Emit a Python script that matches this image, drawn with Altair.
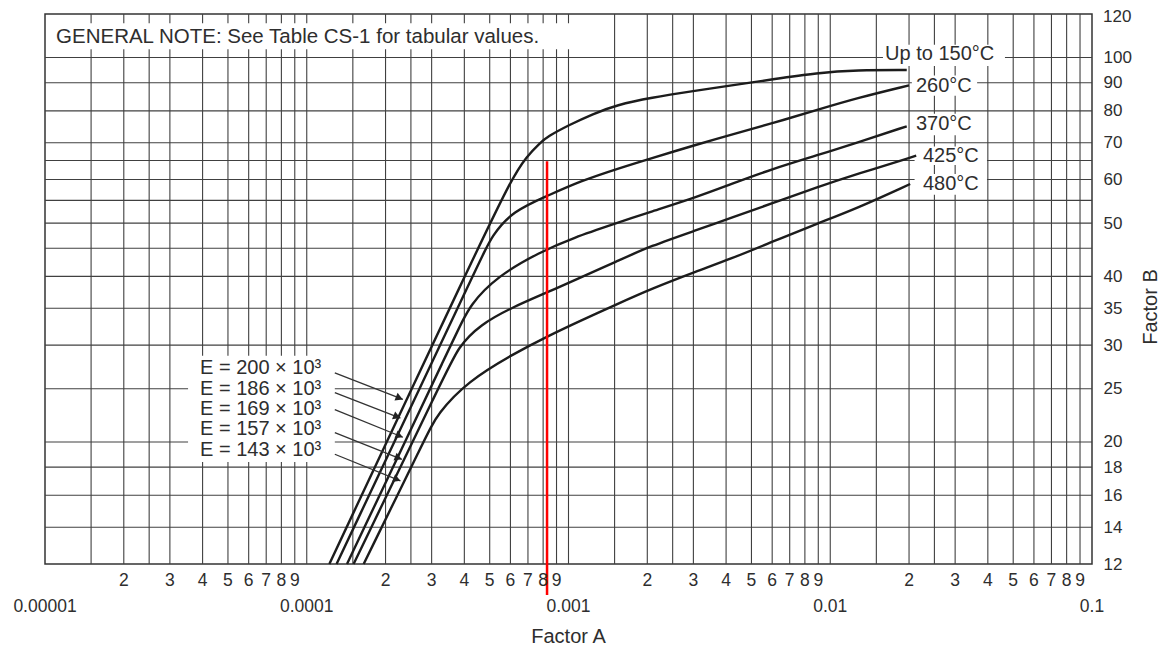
import altair as alt
import pandas as pd

FONT = "Liberation Sans"
TXT = "#2e2e2e"
GRID = "#404040"
INK = "#1c1c1c"

# ---------------- data ----------------
SERIES = ["Up to 150°C", "260°C", "370°C", "425°C", "480°C"]

A_150 = [1.22e-4, 4.5e-4, 6.1e-4, 6.9e-4, 7.8e-4, 8.3e-4, 1.0e-3, 1.24e-3, 1.53e-3, 2.05e-3, 3.1e-3, 4.14e-3, 6.04e-3, 8.9e-3, 1.265e-2, 1.96e-2]
B_150 = [12, 45, 60.5, 66, 70, 71.8, 75.3, 79, 82, 84.5, 87.1, 88.9, 91.3, 93.8, 94.9, 94.9]

A_260 = [1.30e-4, 4.6e-4, 5.1e-4, 6.14e-4, 8.28e-4, 1.107e-3, 1.573e-3, 2.05e-3, 3.1e-3, 4.14e-3, 6.04e-3, 8.9e-3, 1.265e-2, 2.0e-2]
B_260 = [12, 42.8, 47.5, 52.6, 56.0, 59.6, 63.0, 65.5, 69.5, 72.3, 76.0, 80.3, 84.4, 89.0]

A_370 = [1.425e-4, 3.8e-4, 4.2e-4, 5.33e-4, 7.78e-4, 1.04e-3, 1.53e-3, 2.05e-3, 3.1e-3, 4.14e-3, 6.04e-3, 8.9e-3, 1.265e-2, 1.96e-2]
B_370 = [12, 32.1, 35.5, 40.0, 44.3, 47.0, 50.0, 52.4, 55.8, 58.8, 62.8, 66.4, 70.0, 75.0]

A_425 = [1.51e-4, 3.4e-4, 3.78e-4, 4.59e-4, 6.14e-4, 8.28e-4, 1.07e-3, 1.53e-3, 2.05e-3, 3.1e-3, 4.14e-3, 6.04e-3, 8.9e-3, 1.265e-2, 2.13e-2]
B_425 = [12, 26.7, 29.7, 32.7, 35.2, 37.4, 39.5, 42.6, 45.4, 48.6, 51.0, 54.4, 58.1, 61.4, 66.3]

A_480 = [1.65e-4, 2.85e-4, 3.15e-4, 4.13e-4, 6.14e-4, 8.28e-4, 1.107e-3, 1.55e-3, 2.05e-3, 3.1e-3, 4.14e-3, 6.04e-3, 8.9e-3, 1.265e-2, 2.02e-2]
B_480 = [12, 20.4, 22.5, 25.8, 28.9, 31.1, 33.2, 35.7, 37.9, 40.9, 43.0, 46.3, 49.9, 53.2, 58.9]

# temperature labels (left edge / vertical centre, in data units)
T_LABEL_A = [0.01619, 0.02126, 0.02126, 0.02261, 0.02261]
T_LABEL_B = [101.3, 88.9, 75.6, 66.3, 58.9]
T_BOX_A1 = [0.0159, 0.0205, 0.0205, 0.0210, 0.0210]
T_BOX_A2 = [0.0465, 0.0364, 0.0364, 0.0397, 0.0397]
T_BOX_B1 = [96.5, 85.2, 72.2, 63.8, 56.3]
T_BOX_B2 = [105.5, 92.8, 79.0, 68.9, 61.4]

# modulus labels and their arrows
E_LABELS = ["E = 200 × 10³", "E = 186 × 10³", "E = 169 × 10³", "E = 157 × 10³", "E = 143 × 10³"]
E_LABEL_A = [3.91e-5] * 5
E_LABEL_B = [27.3, 25.0, 22.96, 21.08, 19.3]
E_BOX = {"A1": 3.52e-5, "A2": 1.28e-4, "B1": 18.4, "B2": 28.7}
ARROW_A0 = [1.28e-4] * 5
ARROW_B0 = [26.7, 24.6, 22.9, 20.8, 19.0]
ARROW_A1 = [2.33e-4, 2.28e-4, 2.33e-4, 2.31e-4, 2.28e-4]
ARROW_B1 = [23.9, 22.1, 20.4, 18.6, 17.0]

NOTE_TEXT = "GENERAL NOTE: See Table CS-1 for tabular values."
NOTE_A, NOTE_B = 1.102e-5, 108.8
NOTE_BOX = {"A1": 1.02e-5, "A2": 1.088e-3, "B1": 103.5, "B2": 115.5}

# red marker line
RED_A = 8.28e-4
RED_B_TOP = 64.8

# grid and ticks
GRID_MULT = [1.5, 2, 2.5, 3, 4, 5, 6, 7, 8, 9]
DECADES = [1e-5, 1e-4, 1e-3, 1e-2]
INNER_DECADES = [1e-4, 1e-3, 1e-2]
H_GRID = [14, 16, 18, 20, 25, 30, 35, 40, 45, 50, 55, 60, 65, 70, 80, 90, 100]
Y_TICKS = [12, 14, 16, 18, 20, 25, 30, 35, 40, 50, 60, 70, 80, 90, 100]
Y_TOP_LABEL = "120"
MINOR_DIGITS = [2, 3, 4, 5, 6, 7, 8, 9]
DECADE_VALUES = [1e-5, 1e-4, 1e-3, 1e-2, 1e-1]
DECADE_LABELS = ["0.00001", "0.0001", "0.001", "0.01", "0.1"]

# ---------------- tables ----------------
curve_rows = []
for s, (As, Bs) in zip(SERIES, [(A_150, B_150), (A_260, B_260), (A_370, B_370),
                                 (A_425, B_425), (A_480, B_480)]):
    for i, (a, b) in enumerate(zip(As, Bs)):
        curve_rows.append({"series": s, "A": a, "B": b, "idx": i})
curves_df = pd.DataFrame(curve_rows)

vgrid_df = pd.DataFrame({"A": [m * d for d in DECADES for m in GRID_MULT] + INNER_DECADES})
hgrid_df = pd.DataFrame({"B": H_GRID})

box_df = pd.DataFrame(
    [NOTE_BOX, E_BOX]
    + [{"A1": a1, "A2": a2, "B1": b1, "B2": b2}
       for a1, a2, b1, b2 in zip(T_BOX_A1, T_BOX_A2, T_BOX_B1, T_BOX_B2)]
)

tlab_df = pd.DataFrame({"A": T_LABEL_A, "B": T_LABEL_B, "label": SERIES})
elab_df = pd.DataFrame({"A": E_LABEL_A, "B": E_LABEL_B, "label": E_LABELS})
arrow_df = pd.DataFrame({"A0": ARROW_A0, "B0": ARROW_B0, "A1": ARROW_A1, "B1": ARROW_B1})
note_df = pd.DataFrame({"A": [NOTE_A], "B": [NOTE_B], "label": [NOTE_TEXT]})
red_df = pd.DataFrame({"A": [RED_A], "B": [RED_B_TOP]})
minor_df = pd.DataFrame({"A": [m * d for d in DECADES for m in MINOR_DIGITS],
                         "label": [str(m) for d in DECADES for m in MINOR_DIGITS]})
decade_df = pd.DataFrame({"A": DECADE_VALUES, "label": DECADE_LABELS})

# ---------------- chart ----------------
W, H = 1047, 550
xs = alt.Scale(type="log", domain=[1e-5, 0.1], nice=False)
ys = alt.Scale(type="log", domain=[12, 120], nice=False)
YAXIS = alt.Axis(orient="right", values=Y_TICKS, format="d", labelFontSize=17,
                 labelColor=TXT, labelFont=FONT, labelPadding=11, labelOverlap=False,
                 domain=False, ticks=False, grid=False, title=None)


def X(f):
    return alt.X(f, type="quantitative", scale=xs, axis=None)


def Y(f):
    return alt.Y(f, type="quantitative", scale=ys, axis=YAXIS)


def label(text, x, y, size, angle=0):
    return alt.Chart(pd.DataFrame({"t": [text]})).mark_text(
        align="center", baseline="middle", fontSize=size, font=FONT, color=TXT,
        angle=angle).encode(x=alt.value(x), y=alt.value(y), text="t:N")


vgrid = alt.Chart(vgrid_df).mark_rule(color=GRID, strokeWidth=1.1).encode(x=X("A"))
hgrid = alt.Chart(hgrid_df).mark_rule(color=GRID, strokeWidth=1.1).encode(y=Y("B"))
boxes = alt.Chart(box_df).mark_rect(color="white", opacity=1).encode(
    x=X("A1"), x2="A2", y=Y("B1"), y2="B2")
curves = alt.Chart(curves_df).mark_line(color=INK, strokeWidth=2.4, interpolate="basis").encode(
    x=X("A"), y=Y("B"), detail="series:N", order=alt.Order("idx:Q"))
red = alt.Chart(red_df).mark_rule(color="#ff0000", strokeWidth=2.5).encode(
    x=X("A"), y=Y("B"), y2=alt.value(H + 31))
arrows = alt.Chart(arrow_df).mark_rule(color="#333333", strokeWidth=1.3).encode(
    x=X("A0"), x2="A1", y=Y("B0"), y2="B1")
heads = alt.Chart(arrow_df).mark_point(shape="triangle-right", filled=True, size=70, angle=22,
                                       color="#222222", opacity=1, xOffset=-3.5, yOffset=-1.4).encode(
    x=X("A1"), y=Y("B1"))
elabels = alt.Chart(elab_df).mark_text(align="left", baseline="middle", fontSize=20,
                                       font=FONT, color=TXT).encode(
    x=X("A"), y=Y("B"), text="label:N")
tlabels = alt.Chart(tlab_df).mark_text(align="left", baseline="middle", fontSize=20,
                                       font=FONT, color=TXT).encode(
    x=X("A"), y=Y("B"), text="label:N")
note = alt.Chart(note_df).mark_text(align="left", baseline="middle", fontSize=20.5,
                                    font=FONT, color=TXT).encode(
    x=X("A"), y=Y("B"), text="label:N")
minor_lbl = alt.Chart(minor_df).mark_text(align="center", baseline="middle", fontSize=17.5,
                                          font=FONT, color=TXT).encode(
    x=X("A"), y=alt.value(H + 17), text="label:N")
decade_lbl = alt.Chart(decade_df).mark_text(align="center", baseline="middle", fontSize=17.5,
                                            font=FONT, color=TXT).encode(
    x=X("A"), y=alt.value(H + 43), text="label:N")
top_lbl = alt.Chart(pd.DataFrame({"t": [Y_TOP_LABEL]})).mark_text(
    align="left", baseline="middle", fontSize=17, font=FONT, color=TXT).encode(
    x=alt.value(W + 11), y=alt.value(3), text="t:N")
factor_a = label("Factor A", W / 2, H + 73, 20)
factor_b = label("Factor B", W + 59, 293, 20, angle=270)

chart = alt.layer(
    vgrid, hgrid, boxes, curves, red, arrows, heads,
    elabels, tlabels, note, minor_lbl, decade_lbl, top_lbl, factor_a, factor_b
).properties(
    width=W, height=H,
    autosize=alt.AutoSizeParams(type="none"),
    padding={"left": 37, "top": 6, "right": 71, "bottom": 85},
    background="white",
).configure_view(stroke="#333333", strokeWidth=1.5)

chart.save("out.html", embed_options={"renderer": "svg", "actions": False})
